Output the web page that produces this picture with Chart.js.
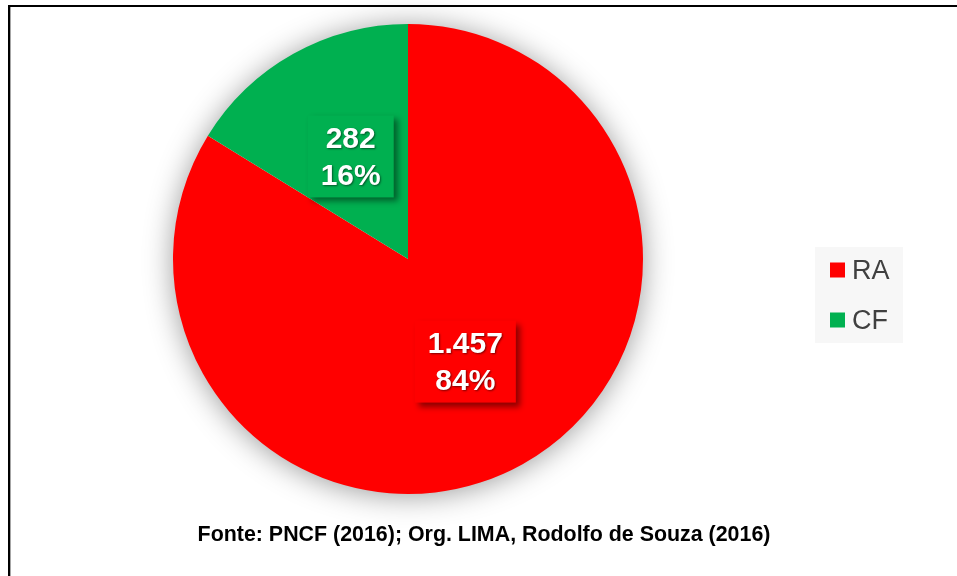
<!DOCTYPE html>
<html>
<head>
<meta charset="utf-8">
<title>RA x CF</title>
<script src="https://cdn.jsdelivr.net/npm/chart.js@4/dist/chart.umd.min.js"></script>
<style>
  html, body { margin: 0; padding: 0; background: #ffffff; }
  canvas { display: block; }
</style>
</head>
<body>
<canvas id="chart" width="957" height="576"></canvas>
<script>
// Categories and their counts
const categories = ['RA', 'CF'];
const values = [1457, 282];
const sliceColors = ['#FF0000', '#00B050'];
const sourceNote = 'Fonte: PNCF (2016); Org. LIMA, Rodolfo de Souza (2016)';

const FONT = '"Liberation Sans", Arial, Helvetica, sans-serif';

function formatThousands(v) {
  return String(v).replace(/\B(?=(\d{3})+(?!\d))/g, '.');
}

// White page with the frame lines at top and left
const framePlugin = {
  id: 'frame',
  beforeDraw(chart) {
    const ctx = chart.ctx;
    ctx.save();
    ctx.fillStyle = '#ffffff';
    ctx.fillRect(0, 0, chart.width, chart.height);
    ctx.fillStyle = '#000000';
    ctx.fillRect(8, 5, chart.width - 8, 2);
    ctx.fillRect(8, 5, 2, chart.height - 5);
    ctx.fillStyle = 'rgba(0,0,0,0.35)';
    ctx.fillRect(10, 7, 1, chart.height - 7);
    ctx.restore();
  }
};

// Soft glow behind the pie
const pieShadowPlugin = {
  id: 'pieShadow',
  beforeDatasetsDraw(chart) {
    const arc = chart.getDatasetMeta(0).data[0];
    if (!arc) return;
    const ctx = chart.ctx;
    ctx.save();
    ctx.shadowColor = 'rgba(0,0,0,0.42)';
    ctx.shadowBlur = 30;
    ctx.shadowOffsetX = 0;
    ctx.shadowOffsetY = 2;
    ctx.fillStyle = '#ffffff';
    ctx.beginPath();
    ctx.arc(arc.x, arc.y, arc.outerRadius - 1, 0, Math.PI * 2);
    ctx.fill();
    ctx.restore();
  }
};

// Value + percentage boxes placed at each slice centroid
const sliceLabelPlugin = {
  id: 'sliceLabels',
  afterDatasetsDraw(chart) {
    const ctx = chart.ctx;
    const data = chart.data.datasets[0].data;
    const colors = chart.data.datasets[0].backgroundColor;
    const total = data.reduce((a, b) => a + b, 0);
    const meta = chart.getDatasetMeta(0);
    ctx.save();
    ctx.font = 'bold 30px ' + FONT;
    ctx.textAlign = 'center';
    ctx.textBaseline = 'middle';
    meta.data.forEach((arc, i) => {
      const p = arc.getCenterPoint();
      const line1 = formatThousands(data[i]);
      const line2 = Math.round(data[i] / total * 100) + '%';
      const w = Math.max(ctx.measureText(line1).width, ctx.measureText(line2).width) + 26;
      const h = 82;
      const gap = 37;
      ctx.save();
      ctx.shadowColor = 'rgba(0,0,0,0.45)';
      ctx.shadowBlur = 6;
      ctx.shadowOffsetX = 4;
      ctx.shadowOffsetY = 4;
      ctx.fillStyle = colors[i];
      ctx.fillRect(p.x - w / 2, p.y - h / 2, w, h);
      ctx.restore();
      ctx.save();
      ctx.shadowColor = 'rgba(0,0,0,0.5)';
      ctx.shadowBlur = 2;
      ctx.shadowOffsetX = 1;
      ctx.shadowOffsetY = 1;
      ctx.fillStyle = '#ffffff';
      ctx.fillText(line1, p.x, p.y - gap / 2 + 2);
      ctx.fillText(line2, p.x, p.y + gap / 2 + 2);
      ctx.restore();
    });
    ctx.restore();
  }
};

// Legend panel on the right and the source note under the pie
const sideLegendPlugin = {
  id: 'sideLegend',
  afterDraw(chart) {
    const ctx = chart.ctx;
    const labels = chart.data.labels;
    const colors = chart.data.datasets[0].backgroundColor;
    ctx.save();
    ctx.fillStyle = '#F7F7F7';
    ctx.fillRect(815, 247, 88, 96);
    ctx.font = '27px ' + FONT;
    ctx.textAlign = 'left';
    ctx.textBaseline = 'middle';
    labels.forEach((lab, i) => {
      const cy = 270 + i * 50;
      ctx.fillStyle = colors[i];
      ctx.fillRect(830, cy - 7.5, 15, 15);
      ctx.fillStyle = '#404040';
      ctx.fillText(lab, 852, cy + 2);
    });
    ctx.font = 'bold 21.4px ' + FONT;
    ctx.textAlign = 'center';
    ctx.textBaseline = 'alphabetic';
    ctx.fillStyle = '#000000';
    ctx.fillText(sourceNote, 484, 541);
    ctx.restore();
  }
};

new Chart(document.getElementById('chart'), {
  type: 'pie',
  data: {
    labels: categories,
    datasets: [{
      data: values,
      backgroundColor: sliceColors,
      borderWidth: 0,
      hoverOffset: 0
    }]
  },
  options: {
    responsive: false,
    animation: false,
    devicePixelRatio: 1,
    layout: { padding: { left: 173, right: 314, top: 24, bottom: 82 } },
    plugins: {
      legend: { display: false },
      tooltip: { enabled: false },
      title: { display: false }
    }
  },
  plugins: [framePlugin, pieShadowPlugin, sliceLabelPlugin, sideLegendPlugin]
});
</script>
</body>
</html>
